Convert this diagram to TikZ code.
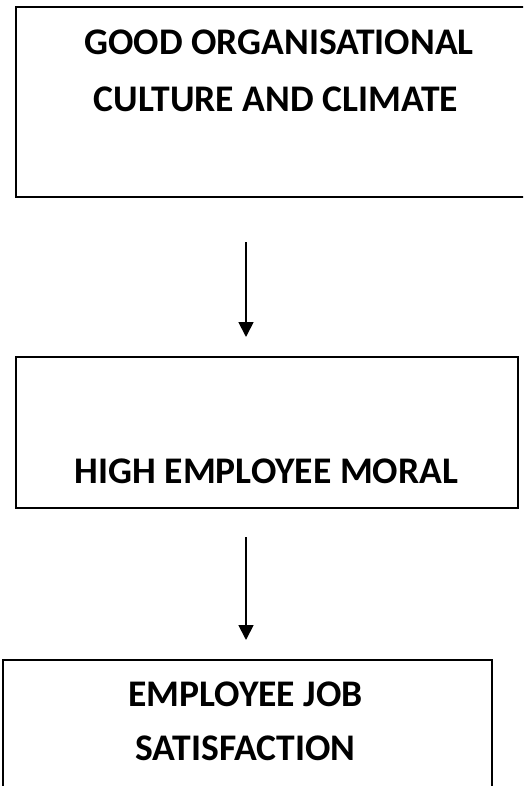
\documentclass[tikz,border=0pt]{standalone}
\usepackage{fontspec}
\setmainfont{Carlito}
\usetikzlibrary{arrows.meta}
\tikzset{
  boxstyle/.style={draw=black, line width=1.8pt, rectangle, inner sep=0pt},
  lbl/.style={font=\fontsize{37.6}{44}\selectfont\bfseries, anchor=base, inner sep=0pt},
  arr/.style={line width=1.8pt, -{Triangle[length=15pt,width=15pt]}}
}
\begin{document}
\begin{tikzpicture}[x=1pt,y=1pt]
\useasboundingbox (0,0) rectangle (523,-786);
\clip (0,0) rectangle (523,-786);
% boxes
\node[boxstyle, minimum width=525pt, minimum height=190.5pt, anchor=north west] (b1) at (15,-6) {};
\node[boxstyle, minimum width=502pt, minimum height=151pt, anchor=north west] (b2) at (15,-356) {};
\node[boxstyle, minimum width=489pt, minimum height=150pt, anchor=north west] (b3) at (2,-659) {};
% labels
\node[lbl] (t1a) at (279,-55) {GOOD ORGANISATIONAL};
\node[lbl] (t1b) at (276,-112) {CULTURE AND CLIMATE};
\node[lbl] (t2) at (266.5,-483) {HIGH EMPLOYEE MORAL};
\node[lbl] (t3a) at (245.5,-706) {EMPLOYEE JOB};
\node[lbl] (t3b) at (245.5,-760) {SATISFACTION};
% arrows
\coordinate (a1s) at (246,-242);
\coordinate (a1e) at (246,-337);
\coordinate (a2s) at (246,-537);
\coordinate (a2e) at (246,-640);
\draw[arr] (a1s) -- (a1e);
\draw[arr] (a2s) -- (a2e);
\end{tikzpicture}
\end{document}
